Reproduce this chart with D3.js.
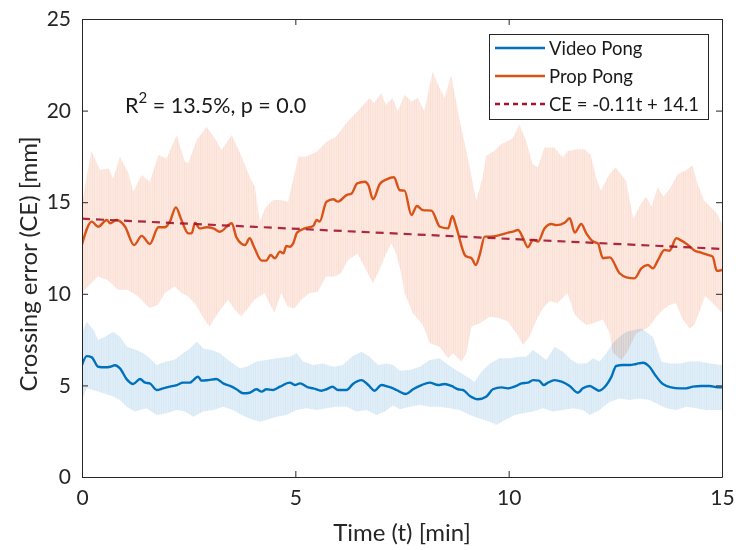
<!DOCTYPE html>
<html><head><meta charset="utf-8">
<script src="https://cdn.jsdelivr.net/npm/d3@7"></script>
<style>
html,body{margin:0;padding:0;background:#fff;}
svg{display:block;font-family:Lato,"Open Sans",sans-serif;}
</style></head>
<body><svg id="chart" width="736" height="550"></svg>
<script>
// ---------- DATA ----------
const xTicks = [0, 5, 10, 15];
const yTicks = [0, 5, 10, 15, 20, 25];
const legendLabels = ["Video Pong", "Prop Pong", "CE = -0.11t + 14.1"];
const annotation = {r2: "13.5%", p: "0.0"};
const fitSlope = -0.11, fitIntercept = 14.1;
const fitRange = [0, 15];

// Prop Pong mean [t (min), CE (mm)]
const propMean = [[0,12.7],[0.23,13.94],[0.38,13.66],[0.58,14.03],[0.66,13.85],[0.81,14.03],[1.01,13.66],[1.22,12.66],[1.40,13.16],[1.59,12.72],[1.79,13.63],[1.94,13.63],[2.06,13.94],[2.20,14.72],[2.33,14.03],[2.49,13.30],[2.57,13.30],[2.65,13.88],[2.76,13.57],[2.92,13.63],[3.08,13.57],[3.23,13.39],[3.51,13.85],[3.62,13.08],[3.82,12.66],[3.93,13.03],[4.03,12.57],[4.21,11.81],[4.32,11.81],[4.42,12.12],[4.52,11.94],[4.64,12.30],[4.72,12.21],[4.79,12.61],[4.87,12.57],[4.95,12.75],[5.04,13.34],[5.22,13.57],[5.42,13.70],[5.50,14.03],[5.57,13.94],[5.73,15.03],[5.89,15.16],[6.00,15.03],[6.20,15.39],[6.32,15.48],[6.45,16.03],[6.63,16.12],[6.71,15.94],[6.82,15.16],[6.98,15.99],[7.14,16.25],[7.31,16.36],[7.45,15.65],[7.56,15.63],[7.72,14.30],[7.85,14.79],[7.99,14.57],[8.19,14.54],[8.39,13.66],[8.58,13.57],[8.68,14.25],[8.77,13.66],[8.99,12.06],[9.13,11.94],[9.23,11.57],[9.32,12.12],[9.44,13.12],[9.56,13.12],[9.72,13.16],[9.87,13.26],[9.99,13.34],[10.10,13.39],[10.22,13.48],[10.34,13.03],[10.45,12.54],[10.57,12.94],[10.69,12.85],[10.84,13.57],[11.00,13.81],[11.12,13.75],[11.31,13.88],[11.43,14.12],[11.55,13.34],[11.70,13.81],[11.82,13.30],[11.98,12.85],[12.09,12.75],[12.21,11.94],[12.37,11.99],[12.60,11.12],[12.76,10.90],[12.95,10.84],[13.11,11.39],[13.26,11.57],[13.38,11.39],[13.50,11.84],[13.65,12.39],[13.77,12.35],[13.93,13.03],[14.05,12.90],[14.20,12.67],[14.36,12.35],[14.51,12.25],[14.67,12.12],[14.78,12.03],[14.88,11.25],[15.0,11.30]];
// Prop Pong band upper / lower edges
const propUpper = [[0,14.9],[0.22,17.8],[0.42,16.76],[0.62,16.85],[0.73,16.3],[0.89,17.49],[1.09,16.58],[1.20,15.58],[1.40,16.48],[1.59,16.12],[1.79,17.58],[1.98,17.39],[2.22,18.67],[2.41,17.21],[2.49,17.12],[2.69,18.39],[2.92,19.12],[3.11,18.49],[3.27,17.85],[3.51,18.67],[3.74,17.49],[3.93,16.39],[4.05,15.85],[4.17,13.94],[4.29,14.67],[4.48,15.12],[4.64,15.12],[4.83,15.03],[5.07,17.49],[5.26,17.49],[5.50,17.76],[5.73,18.30],[5.96,18.58],[6.23,19.42],[6.46,19.96],[6.74,20.69],[6.85,20.4],[7.01,20.96],[7.12,20.3],[7.28,20.69],[7.40,19.96],[7.56,20.87],[7.72,20.5],[7.87,20.7],[8.02,19.96],[8.22,22.13],[8.38,21.23],[8.50,20.7],[8.65,21.95],[8.77,20.5],[8.84,19.60],[9.04,17.44],[9.24,15.09],[9.39,16.35],[9.47,17.53],[9.66,17.80],[9.82,18.16],[9.98,18.34],[10.10,18.5],[10.25,19.24],[10.41,18.34],[10.56,17.08],[10.68,16.9],[10.84,17.98],[11.07,17.98],[11.27,17.44],[11.38,17.80],[11.62,17.89],[11.77,17.89],[11.92,17.6],[12.05,16.35],[12.16,15.63],[12.36,16.53],[12.51,16.90],[12.75,16.17],[12.92,14.1],[13.12,15.0],[13.22,15.3],[13.35,14.75],[13.49,15.81],[13.63,15.3],[13.80,15.81],[13.96,16.53],[14.15,16.75],[14.31,17.0],[14.43,15.99],[14.58,15.09],[14.74,14.73],[14.89,14.37],[15.0,13.8]];
const propLower = [[0,10.04],[0.14,10.40],[0.37,10.94],[0.6,10.76],[0.84,10.22],[1.07,10.22],[1.31,9.86],[1.58,9.22],[1.78,9.4],[1.94,10.04],[2.17,10.40],[2.33,10.04],[2.48,9.86],[2.64,9.5],[2.87,8.59],[2.99,8.23],[3.19,8.95],[3.42,9.68],[3.58,9.13],[3.73,8.77],[3.85,9.1],[4.04,9.68],[4.28,10.04],[4.43,9.31],[4.51,8.95],[4.67,10.04],[4.82,9.31],[4.98,9.2],[5.14,9.68],[5.33,10.04],[5.52,10.1],[5.72,10.94],[5.91,10.94],[6.07,11.12],[6.23,11.84],[6.46,12.20],[6.62,11.48],[6.82,10.58],[6.97,11.30],[7.13,12.20],[7.25,12.74],[7.36,12.20],[7.48,11.12],[7.56,10.04],[7.75,8.95],[7.99,8.3],[8.15,7.30],[8.38,7.11],[8.58,6.48],[8.70,6.75],[8.89,6.30],[9.01,6.75],[9.13,8.21],[9.32,8.39],[9.56,8.75],[9.79,8.66],[9.98,8.5],[10.18,7.84],[10.34,7.21],[10.49,7.66],[10.65,8.57],[10.80,9.21],[10.96,9.6],[11.15,9.5],[11.38,10.04],[11.54,8.9],[11.66,8.6],[11.82,8.3],[11.98,8.39],[12.21,8.6],[12.37,7.84],[12.44,6.8],[12.64,6.39],[12.76,6.75],[12.99,7.84],[13.15,8.02],[13.30,8.21],[13.46,8.75],[13.61,9.12],[13.77,9.39],[13.92,9.49],[14.08,8.6],[14.24,8.1],[14.35,8.3],[14.5,9.2],[14.6,9.9],[14.74,9.6],[14.89,9.22],[15.0,8.95]];

// Video Pong mean
const videoMean = [[0,6.11],[0.11,6.60],[0.23,6.53],[0.38,6.02],[0.54,5.99],[0.66,6.02],[0.77,6.10],[0.89,5.93],[1.05,5.33],[1.20,5.08],[1.36,5.35],[1.48,5.15],[1.59,5.11],[1.75,4.75],[1.90,4.84],[2.06,4.93],[2.22,5.02],[2.37,5.15],[2.53,5.15],[2.61,5.29],[2.72,5.48],[2.80,5.26],[2.96,5.29],[3.15,5.35],[3.31,5.11],[3.47,4.97],[3.62,4.79],[3.78,4.57],[3.93,4.60],[4.09,4.79],[4.21,4.66],[4.32,4.79],[4.48,4.75],[4.64,4.93],[4.87,5.15],[4.99,5.02],[5.11,5.11],[5.30,4.89],[5.42,4.84],[5.61,4.71],[5.73,4.79],[5.87,4.93],[6.00,4.75],[6.20,4.75],[6.35,5.08],[6.55,5.29],[6.71,5.02],[6.86,4.71],[7.02,5.02],[7.17,4.93],[7.29,4.84],[7.37,4.75],[7.59,4.53],[7.76,4.79],[7.96,5.02],[8.15,5.15],[8.35,5.02],[8.50,5.08],[8.66,4.97],[8.81,4.79],[8.93,4.75],[9.09,4.42],[9.28,4.24],[9.48,4.39],[9.63,4.79],[9.83,4.89],[9.98,4.84],[10.18,4.97],[10.30,5.11],[10.45,5.15],[10.57,5.29],[10.71,5.26],[10.82,5.02],[10.92,5.15],[11.08,5.29],[11.24,5.20],[11.43,4.97],[11.62,4.60],[11.74,4.84],[11.90,4.97],[12.01,4.84],[12.11,4.71],[12.29,5.02],[12.41,5.48],[12.52,6.06],[12.68,6.11],[12.84,6.11],[12.99,6.17],[13.15,6.24],[13.30,6.02],[13.46,5.48],[13.61,5.08],[13.81,4.89],[14.01,4.84],[14.16,4.84],[14.32,4.93],[14.51,4.97],[14.71,4.97],[14.90,4.89],[15.0,4.89]];
const videoUpper = [[0,7.84],[0.11,8.48],[0.27,8.02],[0.38,7.48],[0.54,7.66],[0.73,7.93],[0.89,7.66],[1.05,7.11],[1.28,6.93],[1.44,6.75],[1.59,6.48],[1.75,6.11],[1.98,6.30],[2.18,6.42],[2.37,6.75],[2.53,7.02],[2.69,7.39],[2.84,7.02],[3.04,6.93],[3.23,6.75],[3.47,6.30],[3.70,5.93],[3.86,6.02],[4.09,6.30],[4.32,6.39],[4.56,6.48],[4.87,6.57],[5.03,6.75],[5.18,6.30],[5.42,6.11],[5.65,6.20],[5.89,6.02],[6.12,6.11],[6.32,6.57],[6.55,6.84],[6.74,6.57],[6.94,6.11],[7.14,6.20],[7.29,6.11],[7.45,5.80],[7.68,5.84],[7.92,6.02],[8.15,6.39],[8.38,6.48],[8.58,6.11],[8.77,5.84],[9.01,5.48],[9.20,5.20],[9.36,5.75],[9.56,6.20],[9.79,6.48],[10.02,6.48],[10.26,6.57],[10.41,6.57],[10.57,6.93],[10.73,6.66],[10.88,6.39],[11.08,7.11],[11.27,6.84],[11.47,6.39],[11.62,6.20],[11.82,6.20],[11.98,6.48],[12.13,6.30],[12.29,6.75],[12.44,7.30],[12.60,7.66],[12.76,7.93],[12.95,8.02],[13.11,8.11],[13.26,7.84],[13.38,7.66],[13.46,7.11],[13.58,6.30],[13.77,6.20],[14.01,6.20],[14.24,6.30],[14.47,6.30],[14.71,6.20],[15.0,6.11]];
const videoLower = [[0,4.20],[0.11,4.84],[0.27,4.75],[0.50,4.57],[0.73,4.39],[0.89,4.20],[1.05,3.84],[1.24,3.57],[1.51,3.75],[1.75,3.38],[1.98,3.48],[2.22,3.66],[2.41,3.57],[2.61,3.29],[2.84,3.57],[3.08,3.66],[3.31,3.84],[3.54,3.66],[3.74,3.38],[3.93,3.20],[4.17,3.02],[4.32,3.11],[4.56,3.29],[4.79,3.38],[5.03,3.66],[5.26,3.75],[5.50,3.66],[5.73,3.75],[5.96,3.84],[6.20,3.84],[6.43,3.57],[6.67,3.66],[6.90,3.38],[7.10,3.57],[7.29,3.90],[7.45,3.70],[7.68,3.84],[7.92,3.93],[8.15,3.84],[8.38,3.84],[8.62,3.75],[8.85,3.66],[9.09,3.38],[9.32,3.20],[9.56,3.02],[9.71,2.84],[9.91,3.11],[10.14,3.38],[10.34,3.48],[10.57,3.57],[10.80,3.75],[11.04,3.57],[11.27,3.66],[11.51,3.75],[11.74,3.66],[11.90,3.38],[12.13,3.66],[12.37,4.11],[12.60,4.29],[12.84,4.20],[13.07,4.29],[13.30,4.20],[13.46,4.02],[13.69,3.75],[13.93,3.66],[14.16,3.84],[14.40,3.75],[14.63,3.66],[15.0,3.66]];

// ---------- LAYOUT ----------
const svg = d3.select("#chart");
const M = {left: 82, right: 722, top: 19, bottom: 477};
const x = d3.scaleLinear().domain([0, 15]).range([M.left, M.right]);
const y = d3.scaleLinear().domain([0, 25]).range([M.bottom, M.top]);
const axisColor = "#262626";

const defs = svg.append("defs");
function hatch(id, bg, fg) {
  const p = defs.append("pattern").attr("id", id).attr("patternUnits", "userSpaceOnUse")
    .attr("width", 2.3).attr("height", 10);
  p.append("rect").attr("width", 2.3).attr("height", 10).attr("fill", bg);
  p.append("rect").attr("x", 0).attr("width", 0.6).attr("height", 10).attr("fill", fg);
}
hatch("hOrange", "#fde9e1", "#f9dbce");
hatch("hBlue", "#e0eef8", "#d3e6f4");

defs.append("clipPath").attr("id", "plotClip").append("rect")
  .attr("x", M.left).attr("y", M.top).attr("width", M.right - M.left).attr("height", M.bottom - M.top);

const plot = svg.append("g").attr("clip-path", "url(#plotClip)");
const poly = d3.line().x(d => x(d[0])).y(d => y(d[1]));
function band(upper, lower, fill) {
  const pts = upper.concat(lower.slice().reverse());
  plot.append("path").attr("d", poly(pts) + "Z").attr("fill", fill)
    .style("mix-blend-mode", "multiply");
}
band(propUpper, propLower, "url(#hOrange)");
band(videoUpper, videoLower, "url(#hBlue)");

const smooth = d3.line().x(d => x(d[0])).y(d => y(d[1])).curve(d3.curveMonotoneX);
plot.append("path").attr("d", smooth(videoMean)).attr("fill", "none")
  .attr("stroke", "#0072BD").attr("stroke-width", 2.4).attr("stroke-linejoin", "round");
plot.append("path").attr("d", smooth(propMean)).attr("fill", "none")
  .attr("stroke", "#D95319").attr("stroke-width", 2.4).attr("stroke-linejoin", "round");
const fitPts = fitRange.map(t => [t, fitSlope * t + fitIntercept]);
plot.append("path").attr("d", poly(fitPts)).attr("fill", "none")
  .attr("stroke", "#A2142F").attr("stroke-opacity", 0.9).attr("stroke-width", 2.2).attr("stroke-dasharray", "8,6");

// ---------- AXES ----------
const tickLen = 6;
const xAxisB = d3.axisBottom(x).tickValues(xTicks).tickSizeInner(-tickLen).tickSizeOuter(0).tickPadding(13);
const xAxisT = d3.axisTop(x).tickValues(xTicks).tickSizeInner(-tickLen).tickSizeOuter(0).tickFormat("");
const yAxisL = d3.axisLeft(y).tickValues(yTicks).tickSizeInner(-tickLen).tickSizeOuter(0).tickPadding(11);
const yAxisR = d3.axisRight(y).tickValues(yTicks).tickSizeInner(-tickLen).tickSizeOuter(0).tickFormat("");
function styleAxis(g) {
  g.select(".domain").attr("stroke", axisColor).attr("stroke-width", 1);
  g.selectAll(".tick line").attr("stroke", axisColor).attr("stroke-width", 1);
  g.selectAll(".tick text").attr("fill", axisColor).attr("font-size", 21)
    .attr("font-family", "Lato, 'Open Sans', sans-serif");
}
svg.append("g").attr("transform", `translate(0,${M.bottom})`).call(xAxisB).call(styleAxis);
svg.append("g").attr("transform", `translate(0,${M.top})`).call(xAxisT).call(styleAxis);
svg.append("g").attr("transform", `translate(${M.left},0)`).call(yAxisL).call(styleAxis);
svg.append("g").attr("transform", `translate(${M.right},0)`).call(yAxisR).call(styleAxis);

// axis titles
svg.append("text").attr("x", (M.left + M.right) / 2).attr("y", 541)
  .attr("text-anchor", "middle").attr("font-size", 24).attr("fill", axisColor)
  .text("Time (t) [min]");
svg.append("text").attr("transform", `translate(37,${(M.top + M.bottom) / 2 + 16}) rotate(-90)`)
  .attr("text-anchor", "middle").attr("font-size", 24).attr("fill", axisColor)
  .text("Crossing error (CE) [mm]");

// annotation
const ann = svg.append("text").attr("x", 125).attr("y", 113).attr("font-size", 21.5).attr("fill", "#1a1a1a");
ann.append("tspan").text("R");
ann.append("tspan").attr("dy", -10).attr("font-size", 15).text("2");
ann.append("tspan").attr("dy", 10).text(` = ${annotation.r2}, p = ${annotation.p}`);

// legend
const lg = svg.append("g");
lg.append("rect").attr("x", 489.5).attr("y", 34.5).attr("width", 219).attr("height", 85)
  .attr("fill", "#fff").attr("stroke", "#262626").attr("stroke-width", 1);
const legendStyles = [
  {color: "#0072BD", dash: null},
  {color: "#D95319", dash: null},
  {color: "#A2142F", dash: "5,4"}
];
legendLabels.forEach((lab, i) => {
  const cy = 48 + i * 28;
  lg.append("line").attr("x1", 495).attr("x2", 545).attr("y1", cy).attr("y2", cy)
    .attr("stroke", legendStyles[i].color).attr("stroke-width", 2.4)
    .attr("stroke-dasharray", legendStyles[i].dash);
  lg.append("text").attr("x", 549).attr("y", cy + 6.5).attr("font-size", 18.5)
    .attr("fill", "#1a1a1a").text(lab);
});
</script></body></html>
